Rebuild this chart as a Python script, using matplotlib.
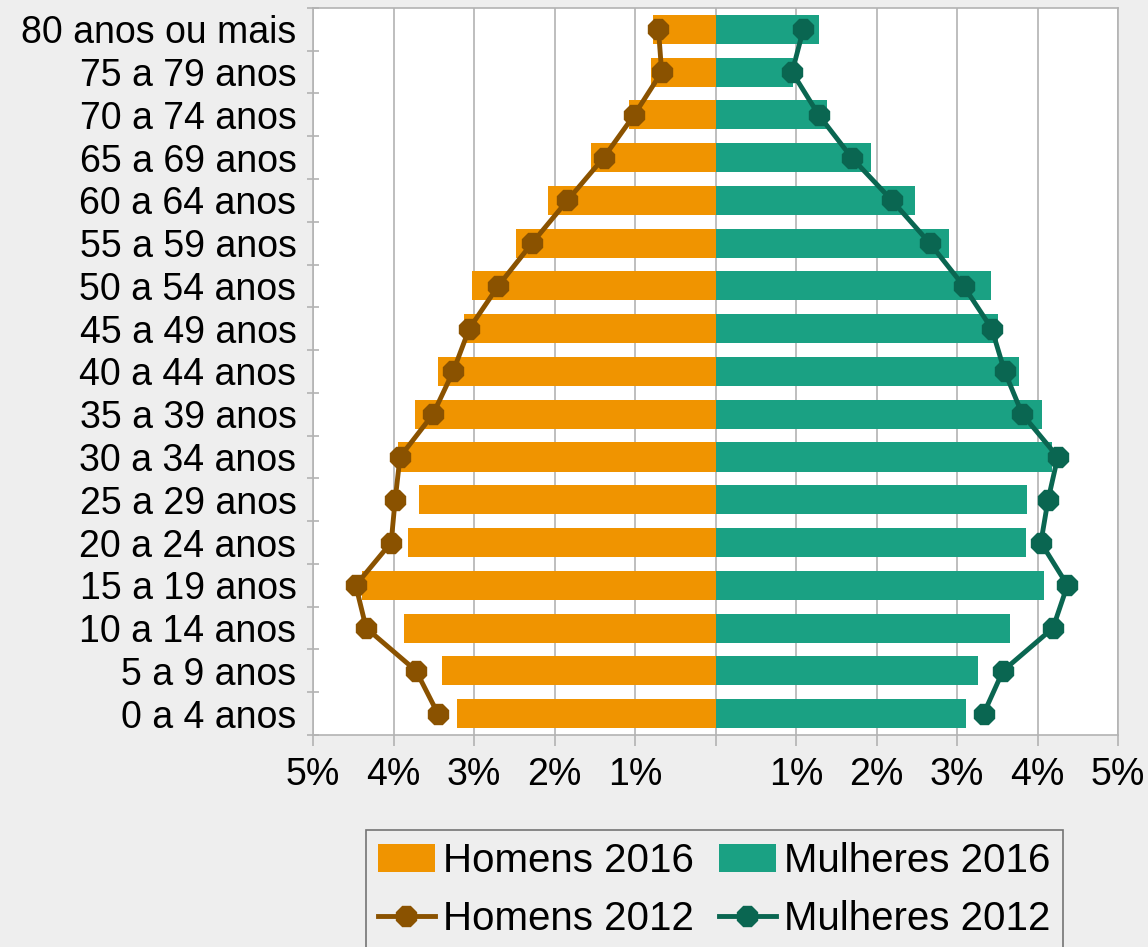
import numpy as np
import matplotlib.pyplot as plt
from matplotlib.ticker import FixedLocator

plt.rcParams['font.family'] = ['Liberation Sans', 'DejaVu Sans']

# faixas etarias (de baixo para cima)
grupos = ['0 a 4 anos', '5 a 9 anos', '10 a 14 anos', '15 a 19 anos', '20 a 24 anos',
          '25 a 29 anos', '30 a 34 anos', '35 a 39 anos', '40 a 44 anos', '45 a 49 anos',
          '50 a 54 anos', '55 a 59 anos', '60 a 64 anos', '65 a 69 anos', '70 a 74 anos',
          '75 a 79 anos', '80 anos ou mais']

# valores em % da populacao
homens_2016 = [3.21, 3.40, 3.87, 4.39, 3.82, 3.68, 3.94, 3.74, 3.45, 3.12,
               3.02, 2.48, 2.08, 1.55, 1.08, 0.80, 0.78]
homens_2012 = [3.45, 3.72, 4.34, 4.47, 4.03, 3.98, 3.92, 3.51, 3.26, 3.06,
               2.70, 2.28, 1.84, 1.39, 1.01, 0.67, 0.71]
mulheres_2016 = [3.11, 3.26, 3.66, 4.08, 3.86, 3.87, 4.18, 4.05, 3.77, 3.51,
                 3.42, 2.90, 2.48, 1.93, 1.38, 0.96, 1.29]
mulheres_2012 = [3.33, 3.57, 4.19, 4.37, 4.04, 4.13, 4.25, 3.81, 3.59, 3.43,
                 3.08, 2.66, 2.19, 1.69, 1.28, 0.95, 1.09]

x_ticks = [-5, -4, -3, -2, -1, 0, 1, 2, 3, 4, 5]
x_labels = ['5%', '4%', '3%', '2%', '1%', '', '1%', '2%', '3%', '4%', '5%']

cor_h16 = '#f09400'
cor_m16 = '#1aa183'
cor_h12 = '#8a5200'
cor_m12 = '#0a6651'

y = np.arange(len(grupos))
h16 = -np.array(homens_2016)
h12 = -np.array(homens_2012)

fig = plt.figure(figsize=(11.48, 9.47), dpi=100)
fig.patch.set_facecolor('#eeeeee')
ax = fig.add_axes([0.2727, 0.2239, 0.7013, 0.7677])
ax.set_facecolor('white')

b1 = ax.barh(y, h16, height=0.68, color=cor_h16, label='Homens 2016', zorder=2)
b2 = ax.barh(y, mulheres_2016, height=0.68, color=cor_m16, label='Mulheres 2016', zorder=2)
l1, = ax.plot(h12, y, color=cor_h12, lw=3.5, marker='8', ms=15, label='Homens 2012', zorder=3)
l2, = ax.plot(mulheres_2012, y, color=cor_m12, lw=3.5, marker='8', ms=15, label='Mulheres 2012', zorder=3)

ax.set_xlim(-5, 5)
ax.set_ylim(-0.5, len(grupos) - 0.5)
ax.set_xticks(x_ticks)
ax.set_xticklabels(x_labels, fontsize=27)
ax.set_yticks(y)
ax.set_yticklabels(grupos, fontsize=27)
ax.tick_params(axis='y', length=0, pad=12)
ax.yaxis.set_minor_locator(FixedLocator(np.arange(-0.5, len(grupos), 1.0)))
ax.tick_params(axis='y', which='minor', length=8, direction='inout', color='#b3b3b3', width=1.2)
ax.tick_params(axis='x', length=8, direction='out', color='#b3b3b3', width=1.2, pad=8)
ax.grid(axis='x', color='#b3b3b3', lw=1.2, zorder=0)
for s in ax.spines.values():
    s.set_color('#b3b3b3')
    s.set_linewidth(1.2)

leg = fig.legend([b1, l1, b2, l2],
                 ['Homens 2016', 'Homens 2012', 'Mulheres 2016', 'Mulheres 2012'],
                 loc='upper center', bbox_to_anchor=(0.622, 0.1235), ncol=2,
                 fontsize=29, frameon=True, fancybox=False, edgecolor='#555555',
                 facecolor='#eeeeee', handlelength=1.42, handleheight=0.7, handletextpad=0.2,
                 columnspacing=0.62, borderpad=0.3, labelspacing=0.5, borderaxespad=0)
leg.get_frame().set_linewidth(1.2)

fig.savefig('out.png', dpi=100, facecolor=fig.get_facecolor())
